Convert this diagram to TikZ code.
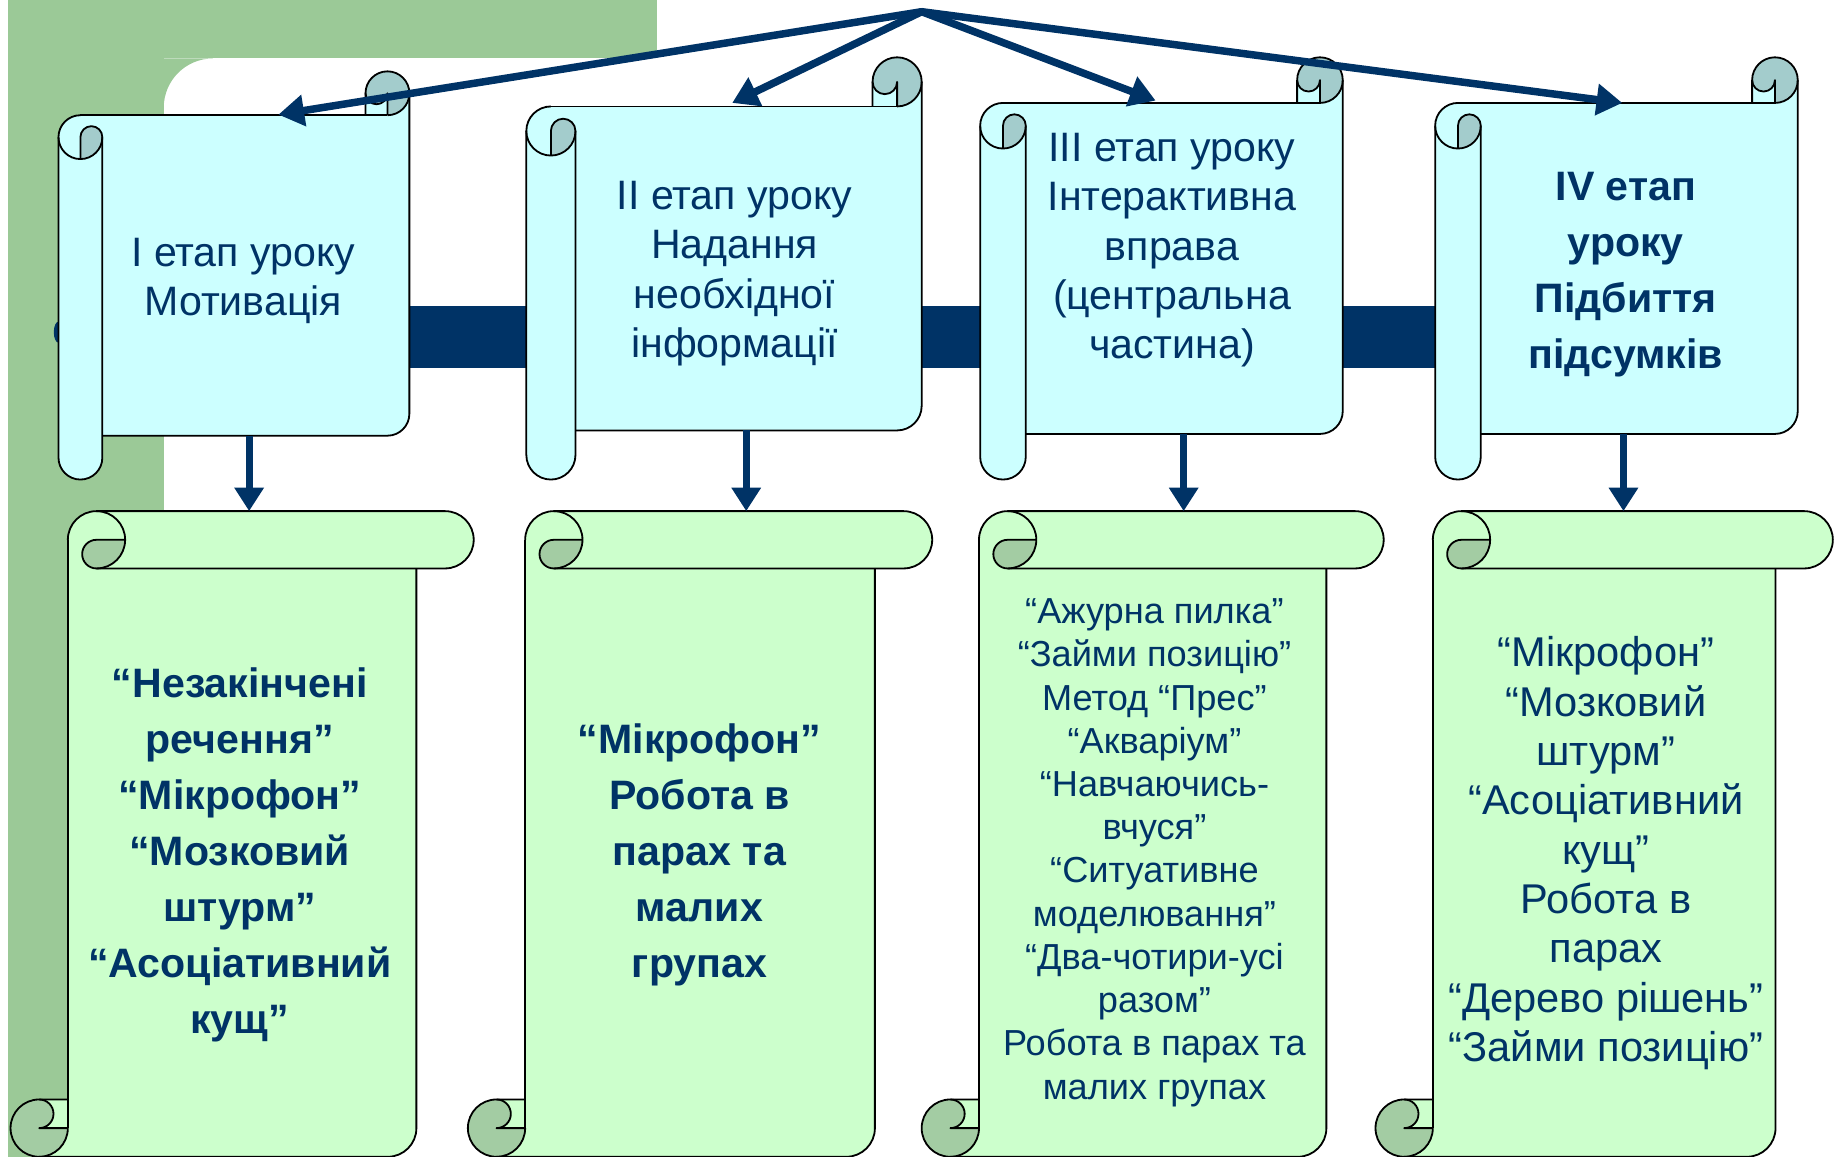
\documentclass[tikz,border=0pt]{standalone}
\usepackage{fontspec}
\setmainfont{Liberation Sans}
\usetikzlibrary{arrows.meta}
\definecolor{bggreen}{RGB}{155,201,151}
\definecolor{navy}{RGB}{0,51,102}
\definecolor{cyanfill}{RGB}{204,255,255}
\definecolor{cyancurl}{RGB}{163,204,204}
\definecolor{greenfill}{RGB}{204,255,204}
\definecolor{greencurl}{RGB}{163,204,163}

% vertical scroll: left, top, right, bottom, curl size (image coords, y down)
\newcommand\vscroll[5]{%
 \pgfmathsetmacro\scL{#1}\pgfmathsetmacro\scT{#2}\pgfmathsetmacro\scR{#3}\pgfmathsetmacro\scB{#4}%
 \pgfmathsetmacro\scC{#5}\pgfmathsetmacro\scH{#5/2}\pgfmathsetmacro\scQ{#5/4}%
 \pgfmathsetmacro\scX{#1+#5/2}\pgfmathsetmacro\scY{#2+1.5*#5}%
 \fill[cyanfill] (\scL+\scH,\scT+\scC) -- (\scR-\scC,\scT+\scC) -- (\scR-\scC,\scT+\scH) -- (\scR,\scT+\scH) -- (\scR,\scB-\scC-\scH) arc[start angle=0,end angle=90,radius=\scH] -- (\scL+\scH,\scB-\scC) -- cycle;
 \fill[cyanfill] (\scL,\scY) -- (\scL,\scB-\scH) arc[start angle=180,end angle=0,radius=\scH] -- (\scL+\scC,\scY) arc[start angle=0,end angle=-180,radius=\scH] -- cycle;
 \fill[cyancurl] (\scR-\scH,\scT+\scC) arc[start angle=90,end angle=-180,radius=\scH] arc[start angle=180,end angle=0,radius=\scQ] -- cycle;
 \fill[cyancurl] (\scX,\scY) -- (\scX,\scY+\scH) arc[start angle=90,end angle=0,radius=\scH] arc[start angle=0,end angle=-180,radius=\scQ] -- cycle;
 \draw[scrollline] (\scL+\scH,\scT+\scC) -- (\scR-\scH,\scT+\scC);
 \draw[scrollline] (\scR-\scC,\scT+\scC) -- (\scR-\scC,\scT+\scH) arc[start angle=180,end angle=360,radius=\scH] -- (\scR,\scB-\scC-\scH) arc[start angle=0,end angle=90,radius=\scH] -- (\scL+\scC,\scB-\scC);
 \draw[scrollline] (\scR,\scT+\scH) arc[start angle=0,end angle=90,radius=\scH];
 \draw[scrollline] (\scR-\scC,\scT+\scH) arc[start angle=180,end angle=0,radius=\scQ] -- (\scR-\scH,\scT+\scC);
 \draw[scrollline] (\scL,\scY) -- (\scL,\scB-\scH) arc[start angle=180,end angle=0,radius=\scH] -- (\scL+\scC,\scY);
 \draw[scrollline] (\scX,\scY-\scH) arc[start angle=270,end angle=0,radius=\scH] arc[start angle=0,end angle=-180,radius=\scQ] -- (\scX,\scY+\scH);
}

% horizontal scroll: left, top, right, bottom, curl size
\newcommand\hscroll[5]{%
 \pgfmathsetmacro\scL{#1}\pgfmathsetmacro\scT{#2}\pgfmathsetmacro\scR{#3}\pgfmathsetmacro\scB{#4}%
 \pgfmathsetmacro\scC{#5}\pgfmathsetmacro\scH{#5/2}\pgfmathsetmacro\scQ{#5/4}%
 \pgfmathsetmacro\scX{#1+1.5*#5}\pgfmathsetmacro\scY{#2+#5/2}%
 \fill[greenfill] (\scL+\scC,\scT+\scH) -- (\scL+\scC,\scB-\scC) -- (\scL+\scH,\scB-\scC) -- (\scL+\scH,\scB) -- (\scR-\scC-\scH,\scB) arc[start angle=90,end angle=0,radius=\scH] -- (\scR-\scC,\scT+\scH) -- cycle;
 \fill[greenfill] (\scX,\scT) -- (\scR-\scH,\scT) arc[start angle=-90,end angle=90,radius=\scH] -- (\scX,\scT+\scC) arc[start angle=90,end angle=270,radius=\scH] -- cycle;
 \fill[greencurl] (\scL+\scC,\scB-\scH) arc[start angle=0,end angle=270,radius=\scH] arc[start angle=-90,end angle=90,radius=\scQ] -- cycle;
 \fill[greencurl] (\scX,\scY) -- (\scX+\scH,\scY) arc[start angle=0,end angle=90,radius=\scH] arc[start angle=90,end angle=270,radius=\scQ] -- cycle;
 \draw[scrollline] (\scL+\scC,\scT+\scH) -- (\scL+\scC,\scB-\scH);
 \draw[scrollline] (\scL+\scC,\scB-\scC) -- (\scL+\scH,\scB-\scC) arc[start angle=270,end angle=90,radius=\scH] -- (\scR-\scC-\scH,\scB) arc[start angle=90,end angle=0,radius=\scH] -- (\scR-\scC,\scT+\scC);
 \draw[scrollline] (\scL+\scH,\scB) arc[start angle=90,end angle=0,radius=\scH];
 \draw[scrollline] (\scL+\scH,\scB-\scC) arc[start angle=-90,end angle=90,radius=\scQ] -- (\scL+\scC,\scB-\scH);
 \draw[scrollline] (\scX,\scT) -- (\scR-\scH,\scT) arc[start angle=-90,end angle=90,radius=\scH] -- (\scX,\scT+\scC);
 \draw[scrollline] (\scL+\scC,\scY) arc[start angle=180,end angle=450,radius=\scH] arc[start angle=90,end angle=270,radius=\scQ] -- (\scX+\scH,\scY);
}

\tikzset{
 scrollline/.style={draw=black, line width=1.1pt, line join=round},
 toptext/.style={align=center, text=navy, inner sep=0pt, font=\fontsize{25}{30}\selectfont},
 topbold/.style={align=center, text=navy, inner sep=0pt, font=\fontsize{25}{34}\selectfont\bfseries},
 lowbold/.style={align=center, text=navy, inner sep=0pt, font=\fontsize{25}{34}\selectfont\bfseries},
 lowsmall/.style={align=center, text=navy, inner sep=0pt, font=\fontsize{22}{26.3}\selectfont},
 lowreg/.style={align=center, text=navy, inner sep=0pt, font=\fontsize{25.3}{30}\selectfont},
 toparrow/.style={navy, line width=1.6mm, line cap=round, -{Triangle[length=5.5mm,width=6.5mm]}},
 downarrow/.style={navy, line width=1.5mm, -{Triangle[length=5mm,width=6mm]}},
}

\begin{document}
\begin{tikzpicture}[x=0.25mm,y=-0.25mm]
\useasboundingbox (0,0) rectangle (1568,989);
\clip (0,0) rectangle (1568,989);
\fill[white] (0,0) rectangle (1568,989);
% green background
\fill[bggreen] (7,0) rectangle (562,50);
\fill[bggreen] (7,0) rectangle (140,989);
\fill[bggreen] (140,50) -- (182,50) arc[start angle=270,end angle=180,radius=42] -- cycle;
% connecting bar
\fill[navy] (60,262) rectangle (1240,315);
\fill[navy] (50,284) ellipse [x radius=4, y radius=9];
% upper scrolls
\vscroll{50}{61}{350}{410}{37.5}
\vscroll{450}{49}{788}{410}{42}
\vscroll{838}{49}{1148}{410}{39}
\vscroll{1227}{49}{1537}{410}{39}
% lower scrolls
\hscroll{9}{437}{405}{989}{49}
\hscroll{400}{437}{797}{989}{49}
\hscroll{788}{437}{1183}{989}{49}
\hscroll{1176}{437}{1567}{989}{49}
% texts
\node[toptext] (tI) at (208,240) {I етап уроку\\Мотивація};
\node[toptext] (tII) at (628,234) {II етап уроку\\Надання\\необхідної\\інформації};
\node[toptext] (tIII) at (1002,214) {III етап уроку\\Інтерактивна\\вправа\\(центральна\\частина)};
\node[topbold] (tIV) at (1390,235) {IV етап\\уроку\\Підбиття\\підсумків};
\node[lowbold] (tA) at (205,731) {“Незакінчені\\речення”\\“Мікрофон”\\“Мозковий\\штурм”\\“Асоціативний\\кущ”};
\node[lowbold] (tB) at (598,731) {“Мікрофон”\\Робота в\\парах та\\малих\\групах};
\node[lowsmall] (tC) at (987,729) {“Ажурна пилка”\\“Займи позицію”\\Метод “Прес”\\“Акваріум”\\“Навчаючись-\\вчуся”\\“Ситуативне\\моделювання”\\“Два-чотири-усі\\разом”\\Робота в парах та\\малих групах};
\node[lowreg] (tD) at (1373,729.5) {“Мікрофон”\\“Мозковий\\штурм”\\“Асоціативний\\кущ”\\Робота в\\парах\\“Дерево рішень”\\“Займи позицію”};
% arrows
\coordinate (apex) at (788,10);
\coordinate (hI) at (238,98);
\coordinate (hII) at (626,88);
\coordinate (hIII) at (988,86);
\coordinate (hIV) at (1387,88);
\draw[toparrow] (apex) -- (hI);
\draw[toparrow] (apex) -- (hII);
\draw[toparrow] (apex) -- (hIII);
\draw[toparrow] (apex) -- (hIV);
\coordinate (dI) at (213,373);   \coordinate (lA) at (213,437);
\coordinate (dII) at (638,368);  \coordinate (lB) at (638,437);
\coordinate (dIII) at (1012,371);\coordinate (lC) at (1012,437);
\coordinate (dIV) at (1388,371); \coordinate (lD) at (1388,437);
\draw[downarrow] (dI) -- (lA);
\draw[downarrow] (dII) -- (lB);
\draw[downarrow] (dIII) -- (lC);
\draw[downarrow] (dIV) -- (lD);
\end{tikzpicture}
\end{document}
